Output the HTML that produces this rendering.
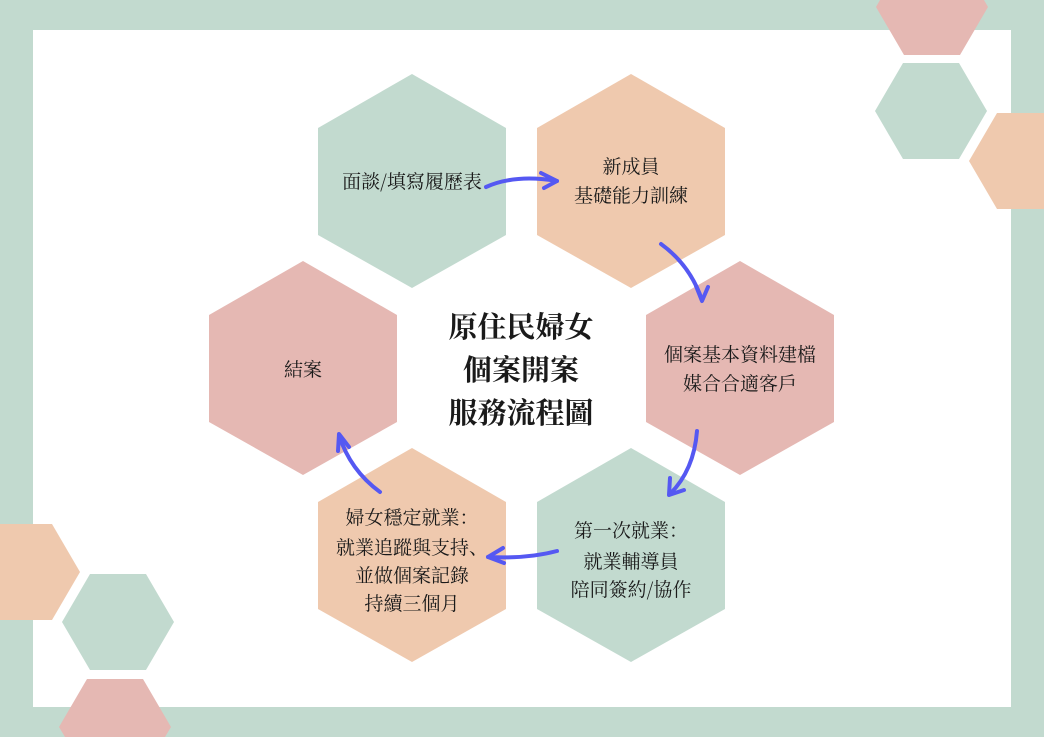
<!DOCTYPE html>
<html><head><meta charset="utf-8"><style>
html,body{margin:0;padding:0;background:#c2dacf;width:1044px;height:737px;overflow:hidden;}
svg{display:block}
text{font-family:"Noto Serif CJK SC","Liberation Serif","Noto Sans CJK TC",serif;fill:#1a1a1a;text-anchor:middle;}
</style></head><body>
<svg width="1044" height="737" viewBox="0 0 1044 737" xmlns="http://www.w3.org/2000/svg">
<rect x="0" y="0" width="1044" height="737" fill="#c2dacf"/>
<rect x="33" y="30" width="978" height="677" fill="#ffffff"/>
<polygon points="880,0 984,0 988,7 960,55 904,55 876,7" fill="#e5b8b3"/>
<polygon points="875,111 903,63 959,63 987,111 959,159 903,159" fill="#c2dacf"/>
<polygon points="969,161 997,113 1044,113 1044,209 997,209" fill="#efc9ae"/>
<polygon points="0,524 52,524 80,572 52,620 0,620" fill="#efc9ae"/>
<polygon points="62,622 90,574 146,574 174,622 146,670 90,670" fill="#c2dacf"/>
<polygon points="59,727 87,679 143,679 171,727 165,737 65,737" fill="#e5b8b3"/>
<polygon points="412,74 506,128 506,235 412,288 318,235 318,128" fill="#c2dacf"/>
<polygon points="631,74 725,128 725,235 631,288 537,235 537,128" fill="#efc9ae"/>
<polygon points="740,261 834,315 834,422 740,475 646,422 646,315" fill="#e5b8b3"/>
<polygon points="631,448 725,502 725,609 631,662 537,609 537,502" fill="#c2dacf"/>
<polygon points="412,448 506,502 506,609 412,662 318,609 318,502" fill="#efc9ae"/>
<polygon points="303,261 397,315 397,422 303,475 209,422 209,315" fill="#e5b8b3"/>
<g font-size="19">
<text x="412" y="188">面談/填寫履歷表</text>
<text x="631" y="173">新成員</text>
<text x="631" y="202">基礎能力訓練</text>
<text x="740" y="361">個案基本資料建檔</text>
<text x="740" y="390">媒合合適客戶</text>
<text x="631" y="537">第一次就業：</text>
<text x="631" y="568">就業輔導員</text>
<text x="631" y="596">陪同簽約/協作</text>
<text x="412" y="524">婦女穩定就業：</text>
<text x="412" y="554">就業追蹤與支持、</text>
<text x="412" y="582">並做個案記錄</text>
<text x="412" y="610">持續三個月</text>
<text x="303" y="376">結案</text>
</g>
<g font-size="29" font-weight="bold">
<text x="521" y="337">原住民婦女</text>
<text x="521" y="380">個案開案</text>
<text x="521" y="423">服務流程圖</text>
</g>
<g stroke="#5558f2" stroke-width="4" fill="none" stroke-linecap="round" stroke-linejoin="round">
<path d="M486,187 Q515,174 557,181"/>
<path d="M541,173 L557,181 L544,188"/>
<path d="M661,244 Q690,265 702,300"/>
<path d="M696,286 L702,301 L708,287"/>
<path d="M697,431 Q694,470 670,494"/>
<path d="M670,478 L669,495 L684,490"/>
<path d="M557,551 Q527,559 488,557"/>
<path d="M503,548 L488,557 L504,563"/>
<path d="M380,492 Q350,470 339,435"/>
<path d="M338,451 L339,434 L349,447"/>
</g>
</svg>
</body></html>
